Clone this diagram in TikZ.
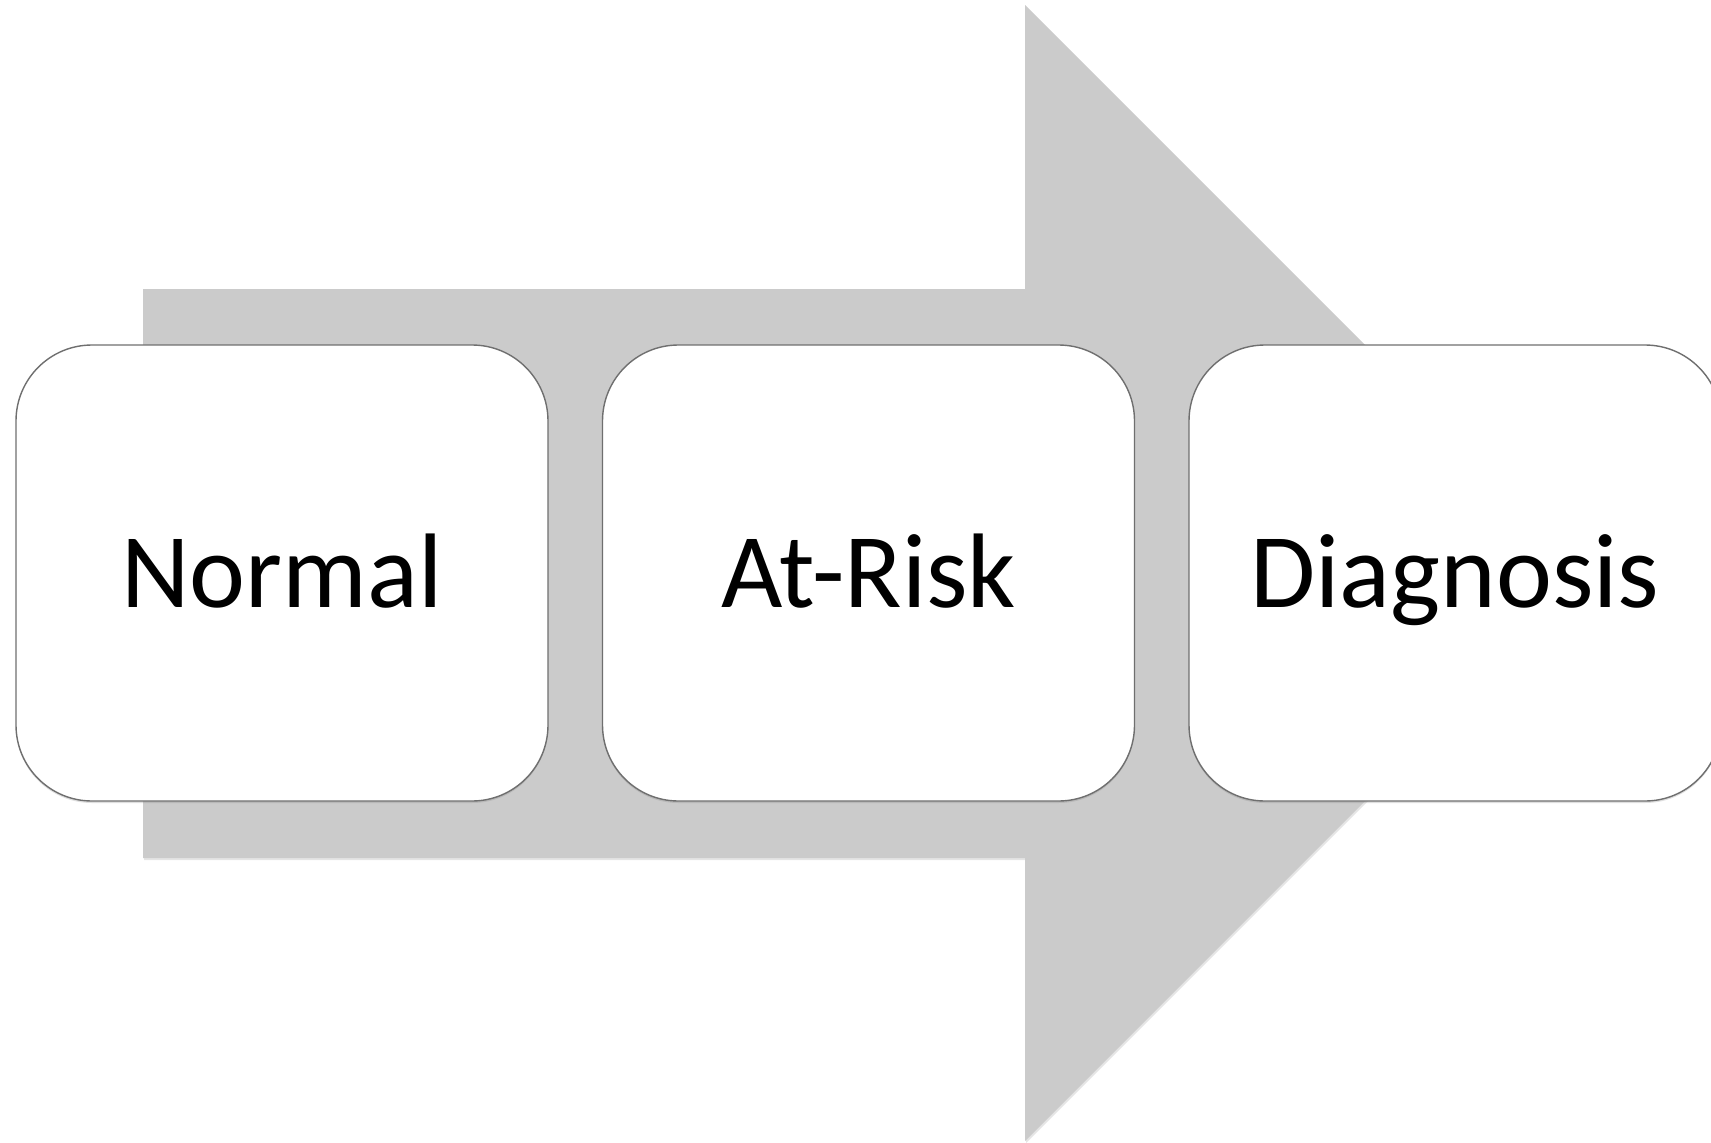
\documentclass[tikz,border=0pt]{standalone}
\usepackage{fontspec}
\setmainfont{Carlito}
\usetikzlibrary{shadows}
\definecolor{arrowgray}{HTML}{CBCBCB}
\definecolor{boxline}{HTML}{6F6F6F}
\tikzset{
  stagebox/.style={draw=boxline, line width=1.4pt, fill=white, rounded corners=76pt,
    minimum width=532pt, minimum height=456pt, inner sep=0pt,
    text height=68pt, text depth=0pt,
    font=\fontsize{106}{124}\selectfont,
    drop shadow={opacity=0.25, shadow xshift=0pt, shadow yshift=-2pt}},
  bigarrow/.style={fill=arrowgray, draw=none,
    drop shadow={opacity=0.2, shadow xshift=1pt, shadow yshift=-2pt}}
}
\begin{document}
\begin{tikzpicture}[x=1pt, y=-1pt]
\useasboundingbox (0,0) rectangle (1711,1143);
\clip (0,0) rectangle (1711,1143);
\fill[white] (0,0) rectangle (1711,1143);
% big arrow
\path[bigarrow] (143,289) -- (1025,289) -- (1025,5) -- (1593,573) -- (1025,1141) -- (1025,858) -- (143,858) -- cycle;
% stages
\node[stagebox] (normal) at (282,573) {Normal};
\node[stagebox] (atrisk) at (868.5,573) {At-Risk};
\node[stagebox] (diag) at (1455,573) {Diagnosis};
\end{tikzpicture}
\end{document}
